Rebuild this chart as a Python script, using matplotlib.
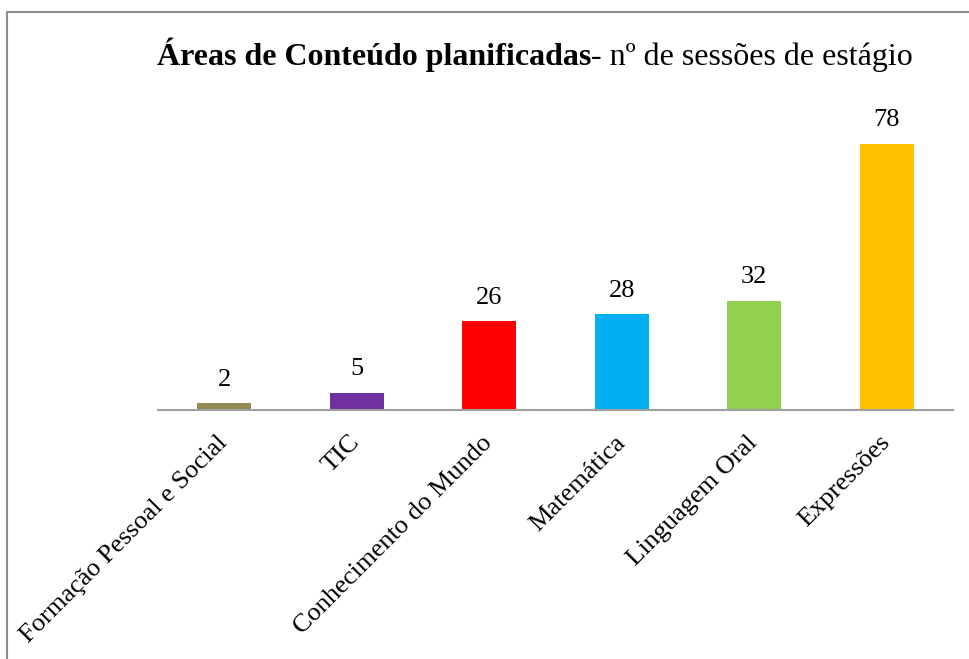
import matplotlib
matplotlib.use("Agg")
import matplotlib.pyplot as plt
from matplotlib.patches import Rectangle

# data
areas = ["Formação Pessoal e Social", "TIC", "Conhecimento do Mundo",
         "Matemática", "Linguagem Oral", "Expressões"]
sessoes = [2, 5, 26, 28, 32, 78]
cores = ["#948A54", "#7030A0", "#FF0000", "#00B0F0", "#92D050", "#FFC000"]

plt.rcParams['font.family'] = ['Liberation Serif', 'DejaVu Serif']

W, H = 970, 659
fig = plt.figure(figsize=(W / 100, H / 100), dpi=100)
# axes placed by pixel: x 158..953, baseline at y=410
ax = fig.add_axes([158 / W, (H - 410) / H, (953 - 158) / W, 307 / H])

x = range(len(areas))
bars = ax.bar(x, sessoes, width=0.41, color=cores)
ax.set_xlim(-0.5, len(areas) - 0.5)
ax.set_ylim(0, 90)

for b, v in zip(bars, sessoes):
    ax.annotate(str(v), (b.get_x() + b.get_width() / 2, v),
                xytext=(0, 9), textcoords='offset points',
                ha='center', va='bottom', fontsize=19)

ax.set_xticks(list(x))
ax.set_xticklabels(areas, rotation=45, ha='right', va='center',
                   rotation_mode='anchor', fontsize=19)
ax.tick_params(axis='x', length=0, pad=21)
ax.set_yticks([])
for s in ['top', 'right', 'left']:
    ax.spines[s].set_visible(False)
ax.spines['bottom'].set_color('#A0A0A0')
ax.spines['bottom'].set_linewidth(1.5)

# title: bold part + normal part
t1 = fig.text(157 / W, 1 - 65 / H, "Áreas de Conteúdo planificadas",
              fontsize=23, fontweight='bold', ha='left', va='baseline')
fig.canvas.draw()
bb = t1.get_window_extent()
fig.text(bb.x1 / W, 1 - 65 / H, "- nº de sessões de estágio",
         fontsize=23, ha='left', va='baseline')

# gray frame (top and left visible)
fig.patches.append(Rectangle((7 / W, -0.1), 1.2, (H - 12) / H + 0.1,
                             transform=fig.transFigure, fill=False,
                             edgecolor='#8C8C8C', linewidth=1.5))

fig.savefig("out.png", dpi=100)
